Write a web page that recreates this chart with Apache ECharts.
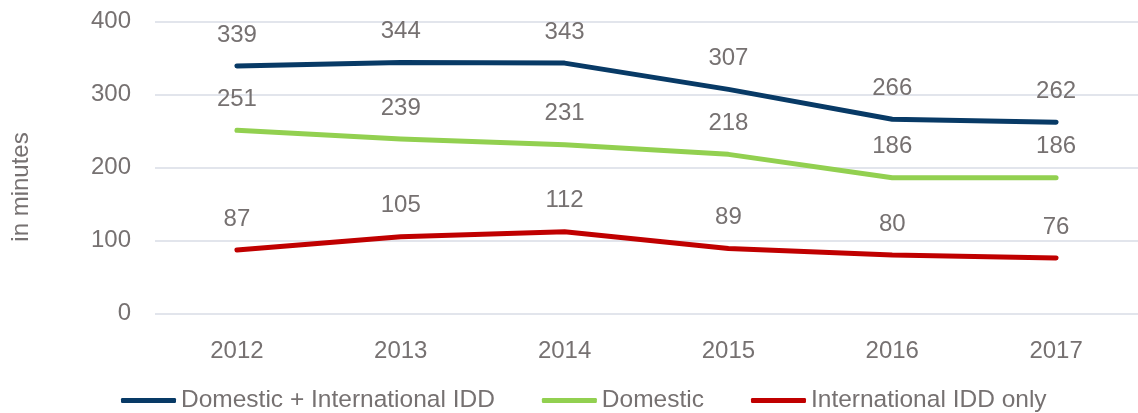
<!DOCTYPE html>
<html>
<head>
<meta charset="utf-8">
<script src="https://cdn.jsdelivr.net/npm/echarts@6/dist/echarts.min.js"></script>
<style>
  html, body { margin: 0; padding: 0; background: #fff; }
  #chart { width: 1138px; height: 413px; }
</style>
</head>
<body>
<div id="chart"></div>
<script>
// chart values
var years = ['2012', '2013', '2014', '2015', '2016', '2017'];
var domesticIntl = [339, 344, 343, 307, 266, 262];
var domestic = [251, 239, 231, 218, 186, 186];
var intlOnly = [87, 105, 112, 89, 80, 76];
var yTicks = [0, 100, 200, 300, 400];

var textColor = '#767171';
var font = 'Liberation Sans';

function makeSeries(name, data, color) {
    return {
        name: name,
        type: 'line',
        data: data,
        symbol: 'circle',
        symbolSize: 0,
        showSymbol: true,
        lineStyle: { width: 5, color: color, cap: 'round', join: 'round' },
        itemStyle: { color: color },
        label: {
            show: true,
            position: 'top',
            distance: 19,
            fontSize: 24,
            fontFamily: font,
            color: textColor
        }
    };
}

var chartDom = document.getElementById('chart');
var myChart = echarts.init(chartDom);
var option;

option = {
    animation: false,
    grid: {
        left: 155,
        right: -4,
        top: 21.5,
        bottom: 99.5
    },
    legend: {
        bottom: -5,
        left: 116,
        itemWidth: 55,
        itemHeight: 5,
        itemGap: 47,
        icon: 'roundRect',
        textStyle: { fontSize: 24.5, fontFamily: font, color: textColor }
    },
    xAxis: {
        type: 'category',
        data: years,
        axisLine: { show: false },
        axisTick: { show: false },
        axisLabel: { margin: 26, fontSize: 24, fontFamily: font, color: textColor }
    },
    yAxis: {
        type: 'value',
        min: yTicks[0],
        max: yTicks[yTicks.length - 1],
        interval: 100,
        name: 'in minutes',
        nameLocation: 'middle',
        nameGap: 122,
        nameTextStyle: { fontSize: 24, fontFamily: font, color: textColor, padding: [0, 39, 0, 0] },
        axisLabel: { margin: 24, fontSize: 24, fontFamily: font, color: textColor },
        splitLine: { lineStyle: { color: '#d9dce6', width: 1.5 } }
    },
    series: [
        makeSeries('Domestic + International IDD', domesticIntl, '#083a66'),
        makeSeries('Domestic', domestic, '#92d050'),
        makeSeries('International IDD only', intlOnly, '#c00000')
    ]
};

option && myChart.setOption(option);
</script>
</body>
</html>
